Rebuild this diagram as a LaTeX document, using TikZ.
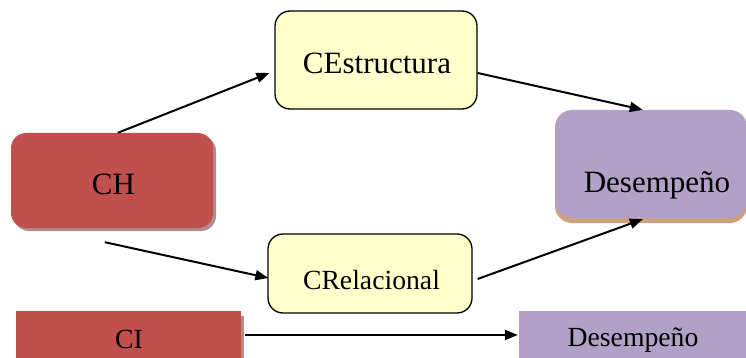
\documentclass[tikz,border=0pt]{standalone}
\usepackage{fontspec}
\setmainfont{Liberation Serif}
\usetikzlibrary{shadows,arrows.meta,calc}
\definecolor{chred}{RGB}{192,80,77}
\definecolor{ylw}{RGB}{255,255,204}
\definecolor{lila}{RGB}{178,161,199}
\definecolor{chsh}{RGB}{176,140,140}
\definecolor{tanshadow}{RGB}{206,160,124}
\begin{document}
\begin{tikzpicture}[x=1pt,y=-1pt,
  redbox/.style={fill=chred, rounded corners=15pt, inner sep=0pt,
    drop shadow={shadow xshift=3pt, shadow yshift=-3pt, fill=chsh, opacity=1}},
  ylwbox/.style={fill=ylw, draw=black, line width=1.3pt, rounded corners=15pt, inner sep=0pt},
  lilabox/.style={fill=lila, rounded corners=17pt, inner sep=0pt,
    drop shadow={shadow xshift=0pt, shadow yshift=-5pt, fill=tanshadow, opacity=1}},
  flatred/.style={fill=chred, inner sep=0pt,
    drop shadow={shadow xshift=3pt, shadow yshift=-5pt, fill=chsh, opacity=1}},
  flatlila/.style={fill=lila, inner sep=0pt},
  bigtxt/.style={font=\fontsize{31}{31}\selectfont, anchor=base, inner sep=0pt},
  midtxt/.style={font=\fontsize{27.7}{28}\selectfont, anchor=base, inner sep=0pt},
  arr/.style={line width=2pt, -{Triangle[length=13pt,width=10pt]}}]
\useasboundingbox (0,0) rectangle (746,358);
\clip (0,0) rectangle (746,358);
% boxes
\node[redbox, minimum width=202pt, minimum height=95pt] (ch) at (112,180.5) {};
\node[ylwbox, minimum width=202pt, minimum height=98pt] (ce) at (376,60) {};
\node[ylwbox, minimum width=204pt, minimum height=79pt] (cr) at (370,273.5) {};
\node[lilabox, minimum width=192pt, minimum height=108pt] (ds) at (651,164) {};
\node[flatred, minimum width=225pt, minimum height=60pt] (ci) at (128.5,341) {};
\node[flatlila, minimum width=230pt, minimum height=60pt] (sd) at (634,341) {};
% labels
\node[bigtxt] (tch) at (113.5,194) {CH};
\node[bigtxt] (tce) at (377,74) {CEstructura};
\node[bigtxt] (tds) at (657,192) {Desempeño};
\node[midtxt] (tcr) at (371.5,289) {CRelacional};
\node[midtxt] (tci) at (129,348) {CI};
\node[midtxt] (tsd) at (633,346) {Desempeño};
% connectors
\draw[arr] ($(ch.north west)+(107,0)$) -- ($(ce.west)+(-5,13)$);
\draw[arr] ($(ce.east)+(0,13)$) -- ($(ds.north west)+(88,0)$);
\draw[arr] ($(ch.south west)+(94,14)$) -- ($(cr.west)+(1,4.5)$);
\draw[arr] ($(cr.east)+(5,5.5)$) -- ($(ds.south west)+(88,1)$);
\draw[arr] ($(ci.east)+(4,-6)$) -- ($(sd.west)+(-1,-6)$);
\end{tikzpicture}
\end{document}
